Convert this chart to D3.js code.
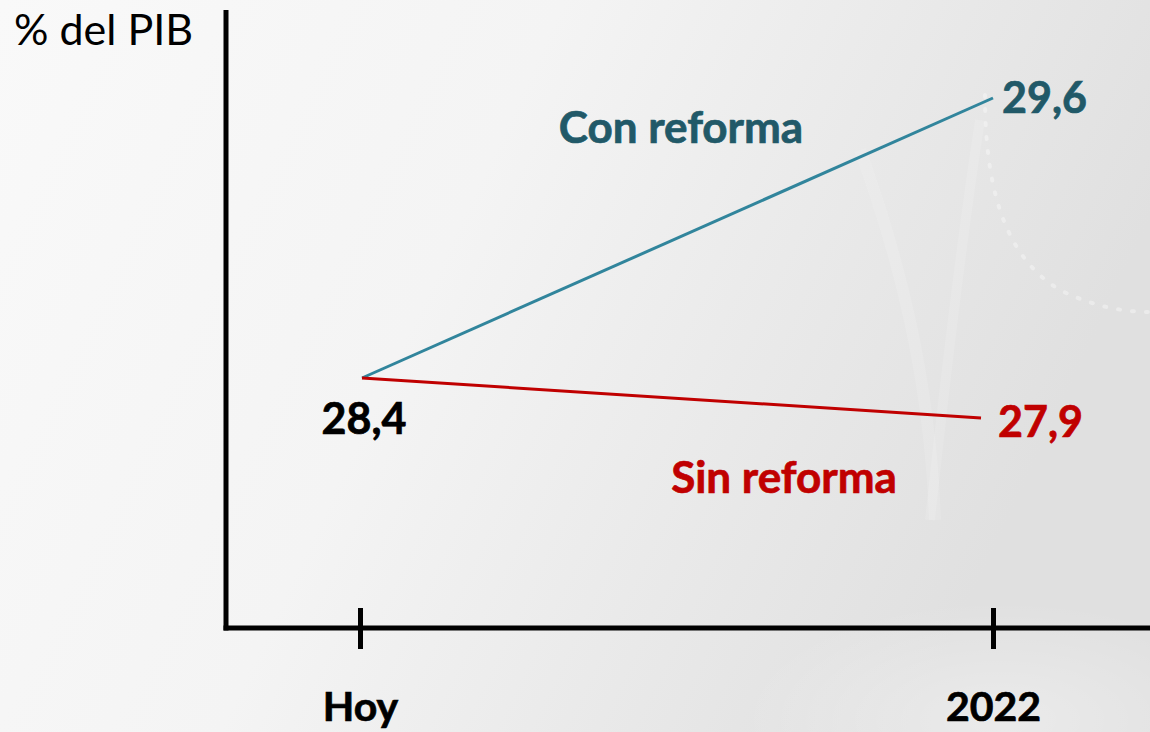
<!DOCTYPE html>
<html>
<head>
<meta charset="utf-8">
<script src="https://cdn.jsdelivr.net/npm/d3@7"></script>
<style>
  html, body { margin: 0; padding: 0; overflow: hidden; }
  svg { display: block; }
  text { font-family: Lato, "Open Sans", sans-serif; }
</style>
</head>
<body>
<svg id="chart" width="1150" height="732"></svg>
<script>
// ---- data ----
const periods = ["Hoy", "2022"];
const conReforma = [28.4, 29.6];
const sinReforma = [28.4, 27.9];
const seriesNames = ["Con reforma", "Sin reforma"];
const yAxisTitle = "% del PIB";
const fmt = v => String(v).replace(".", ",");

// ---- layout ----
const W = 1150, H = 732;
const svg = d3.select("#chart");

// background (faded photo approximation)
const defs = svg.append("defs");
const g1 = defs.append("linearGradient").attr("id", "bg").attr("x1", "0").attr("x2", "1").attr("y1", "0").attr("y2", "0.3");
g1.append("stop").attr("offset", "0%").attr("stop-color", "#f9f9f9");
g1.append("stop").attr("offset", "45%").attr("stop-color", "#f4f4f4");
g1.append("stop").attr("offset", "75%").attr("stop-color", "#e9e9e9");
g1.append("stop").attr("offset", "100%").attr("stop-color", "#e0e0e0");
svg.append("rect").attr("width", W).attr("height", H).attr("fill", "url(#bg)");
const g2 = defs.append("radialGradient").attr("id", "glow").attr("cx", "0.5").attr("cy", "0.5").attr("r", "0.5");
g2.append("stop").attr("offset", "0%").attr("stop-color", "#ffffff").attr("stop-opacity", 0.35);
g2.append("stop").attr("offset", "100%").attr("stop-color", "#ffffff").attr("stop-opacity", 0);
svg.append("ellipse").attr("cx", 1000).attr("cy", 720).attr("rx", 260).attr("ry", 120).attr("fill", "url(#glow)");
// faint decorative curves from the background photo
const deco = svg.append("g").attr("fill", "none").attr("stroke", "#ffffff");
deco.append("path").attr("d", "M985,95 C985,200 1010,260 1060,290 C1090,305 1120,312 1150,312")
  .attr("stroke-width", 4).attr("stroke-dasharray", "2 12").attr("stroke-linecap", "round").attr("stroke-opacity", 0.35);
deco.append("path").attr("d", "M860,150 C900,260 930,380 935,520").attr("stroke-width", 12).attr("stroke-opacity", 0.12);
deco.append("path").attr("d", "M980,120 C960,250 945,380 930,520").attr("stroke-width", 10).attr("stroke-opacity", 0.12);

// scales
const x = d3.scalePoint().domain(periods).range([360, 993]);
// schematic (non-proportional) vertical scale, piecewise through the three values
const y = d3.scaleLinear().domain([27.9, 28.4, 29.6]).range([418, 378, 98]);

const axisX0 = 226, axisY0 = 628;

// y axis line
svg.append("line").attr("x1", axisX0).attr("x2", axisX0).attr("y1", 10).attr("y2", axisY0 + 2.5)
  .attr("stroke", "#000").attr("stroke-width", 5);

// x axis via d3.axisBottom
const xAxis = d3.axisBottom(x).tickSize(0).tickPadding(0);
const gx = svg.append("g").attr("transform", `translate(0,${axisY0})`).call(xAxis);
gx.select(".domain").remove();
gx.selectAll(".tick text").remove();
gx.append("line").attr("x1", axisX0 - 2.5).attr("x2", W).attr("y1", 0).attr("y2", 0)
  .attr("stroke", "#000").attr("stroke-width", 5);
gx.selectAll(".tick").append("line").attr("y1", -20).attr("y2", 21)
  .attr("stroke", "#000").attr("stroke-width", 5);
gx.selectAll(".tick").append("text")
  .attr("y", 93).attr("text-anchor", "middle")
  .attr("font-size", 41).attr("font-weight", 700).attr("fill", "#000")
  .attr("stroke", "#000").attr("stroke-width", 0.7)
  .text(d => d);

// y axis title
svg.append("text").attr("x", 14).attr("y", 45).attr("font-size", 43).attr("fill", "#000").text(yAxisTitle);

// lines
const line = d3.line().x(d => d[0]).y(d => d[1]);
const conPts = periods.map((p, i) => [x(p) + (i === 0 ? 2 : 0), y(conReforma[i])]);
const sinPts = periods.map((p, i) => [x(p) + (i === 0 ? 2 : -12), y(sinReforma[i])]);

svg.append("path").attr("d", line(conPts)).attr("fill", "none").attr("stroke", "#31859c").attr("stroke-width", 3);
svg.append("path").attr("d", line(sinPts)).attr("fill", "none").attr("stroke", "#c00000").attr("stroke-width", 3);

// value labels
const lbl = (s, c) => s.attr("font-size", 43).attr("font-weight", 700).attr("fill", c).attr("stroke", c).attr("stroke-width", 0.7);
svg.append("text").call(lbl, "#000").attr("x", x(periods[0]) + 4).attr("y", y(conReforma[0]) + 56)
  .attr("text-anchor", "middle").text(fmt(conReforma[0]));
svg.append("text").call(lbl, "#215968").attr("x", x(periods[1]) + 9).attr("y", y(conReforma[1]) + 15)
  .text(fmt(conReforma[1]));
svg.append("text").call(lbl, "#c00000").attr("x", x(periods[1]) + 5).attr("y", y(sinReforma[1]) + 19)
  .text(fmt(sinReforma[1]));

// series labels
svg.append("text").call(lbl, "#215968").attr("font-size", 44).attr("x", 681).attr("y", 143).attr("text-anchor", "middle")
  .text(seriesNames[0]);
svg.append("text").call(lbl, "#c00000").attr("font-size", 44).attr("x", 784).attr("y", 493).attr("text-anchor", "middle")
  .text(seriesNames[1]);
</script>
</body>
</html>
